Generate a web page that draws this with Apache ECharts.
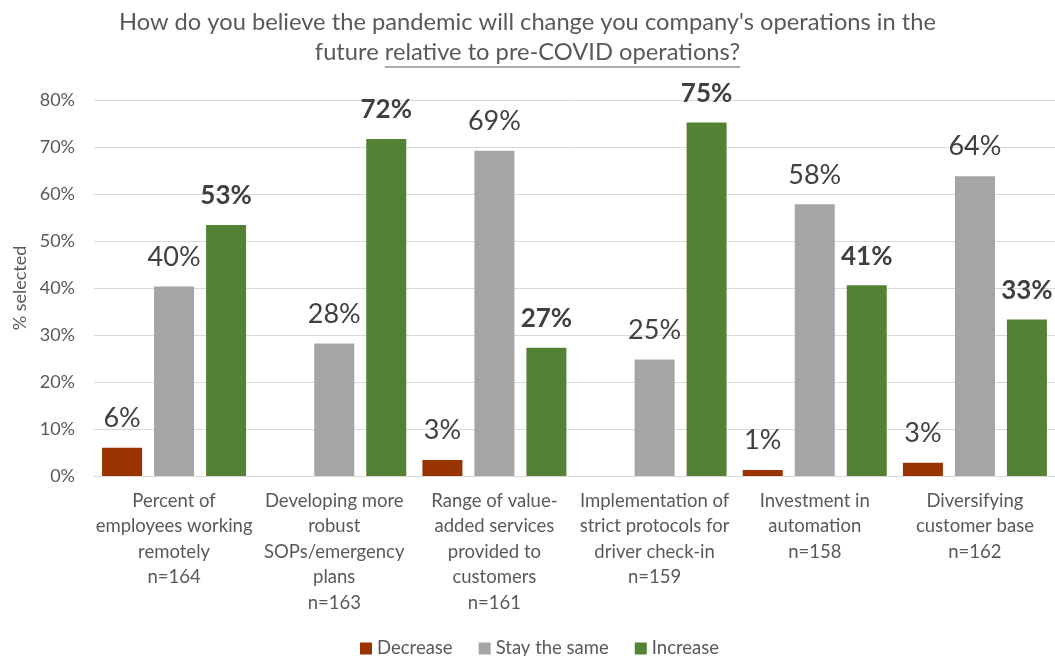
<!DOCTYPE html>
<html>
<head>
<meta charset="utf-8">
<script src="https://cdn.jsdelivr.net/npm/echarts@6/dist/echarts.min.js"></script>
<style>
  html, body { margin: 0; padding: 0; background: #fff; }
  #chart { width: 1055px; height: 656px; }
</style>
</head>
<body>
<div id="chart"></div>
<script>
var categories = [
    'Percent of\nemployees working\nremotely\nn=164',
    'Developing more\nrobust\nSOPs/emergency\nplans\nn=163',
    'Range of value-\nadded services\nprovided to\ncustomers\nn=161',
    'Implementation of\nstrict protocols for\ndriver check-in\nn=159',
    'Investment in\nautomation\nn=158',
    'Diversifying\ncustomer base\nn=162'
];
var decrease = [6.0, null, 3.4, null, 1.3, 2.8];
var staySame = [40.3, 28.2, 69.2, 24.8, 57.8, 63.8];
var increase = [53.4, 71.7, 27.3, 75.2, 40.6, 33.3];
var yTicks = [0, 10, 20, 30, 40, 50, 60, 70, 80];

var FONT = 'Lato, "Liberation Sans", sans-serif';
var titleLine1 = "How do you believe the pandemic will change you company's operations in the";
var titleLine2a = 'future ';
var titleLine2b = 'relative to pre-COVID operations?';

function pctLabel(p) {
    if (p.value == null) return '';
    return Math.round(p.value) + '%';
}

// pick title size so the first line spans about as wide as the original, then place the underline
var ctx = document.createElement('canvas').getContext('2d');
ctx.font = '20px ' + FONT;
var titleSize = Math.round(20 * 817 / ctx.measureText(titleLine1).width * 10) / 10;
ctx.font = titleSize + 'px ' + FONT;
var wA = ctx.measureText(titleLine2a).width;
var wB = ctx.measureText(titleLine2b).width;
var lineStart = 1055 / 2 - (wA + wB) / 2 + wA;

var titleStyle = { fontSize: titleSize, fontWeight: 'normal', color: '#595959', fontFamily: FONT };

var myChart = echarts.init(document.getElementById('chart'));
var option = {
    animation: false,
    textStyle: { fontFamily: FONT },
    title: [
        { text: titleLine1, left: 'center', top: 10, padding: 0, textStyle: titleStyle },
        { text: titleLine2a + titleLine2b, left: 'center', top: 40, padding: 0, textStyle: titleStyle }
    ],
    graphic: [{
        type: 'line',
        shape: { x1: lineStart, y1: 67, x2: lineStart + wB, y2: 67 },
        style: { stroke: '#595959', lineWidth: 1.2 }
    }],
    legend: {
        data: ['Decrease', 'Stay the same', 'Increase'],
        bottom: -7,
        left: 355,
        icon: 'rect',
        itemWidth: 12,
        itemHeight: 12,
        itemGap: 26,
        textStyle: { fontSize: 18.5, color: '#595959', fontFamily: FONT }
    },
    grid: { left: 94, right: -9, top: 100, bottom: 180, containLabel: false },
    xAxis: {
        type: 'category',
        data: categories,
        axisTick: { show: false },
        axisLine: { lineStyle: { color: '#d9d9d9', width: 1 } },
        axisLabel: { color: '#595959', fontSize: 18.5, lineHeight: 25.5, margin: 12, interval: 0, fontFamily: FONT }
    },
    yAxis: {
        type: 'value',
        min: 0,
        max: 80,
        interval: 10,
        name: '% selected',
        nameLocation: 'middle',
        nameRotate: 90,
        nameGap: 63,
        nameTextStyle: { color: '#595959', fontSize: 18, fontFamily: FONT },
        axisLine: { show: false },
        axisTick: { show: false },
        splitLine: { lineStyle: { color: '#d9d9d9', width: 1 } },
        axisLabel: {
            color: '#595959', fontSize: 18, margin: 19, fontFamily: FONT,
            formatter: function (v) { return yTicks.indexOf(v) >= 0 ? v + '%' : ''; }
        }
    },
    series: [
        {
            name: 'Decrease', type: 'bar', data: decrease, barWidth: 40, barGap: '30%',
            itemStyle: { color: '#993300' },
            label: { show: true, position: 'top', distance: 16, formatter: pctLabel, fontSize: 27, color: '#404040', fontFamily: FONT }
        },
        {
            name: 'Stay the same', type: 'bar', data: staySame, barWidth: 40, barGap: '30%',
            itemStyle: { color: '#a5a5a5' },
            label: { show: true, position: 'top', distance: 16, formatter: pctLabel, fontSize: 27, color: '#404040', fontFamily: FONT }
        },
        {
            name: 'Increase', type: 'bar', data: increase, barWidth: 40, barGap: '30%',
            itemStyle: { color: '#548235' },
            label: { show: true, position: 'top', distance: 16, formatter: pctLabel, fontSize: 26, fontWeight: 'bold', color: '#404040', fontFamily: FONT }
        }
    ]
};
myChart.setOption(option);
</script>
</body>
</html>
